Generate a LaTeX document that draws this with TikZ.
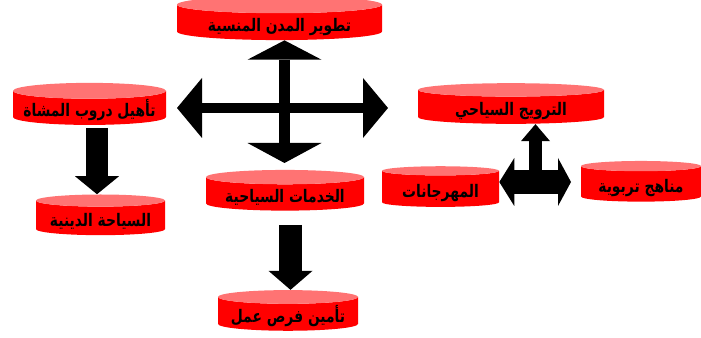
\documentclass[tikz,border=0pt]{standalone}
\usepackage{fontspec}
\newfontfamily\arabicfont[Script=Arabic,FakeStretch=0.8]{DejaVu Sans}
\TeXXeTstate=1
\usetikzlibrary{shapes.geometric}
\usetikzlibrary{arrows.meta}

\tikzset{
  disk/.style={cylinder, shape border rotate=90, aspect=0.12, draw=none, inner sep=0pt,
    cylinder uses custom fill, cylinder body fill=red, cylinder end fill=red!55,
    minimum width=#1, minimum height=30.5pt, text height=13.5pt, text depth=0pt,
    font=\arabicfont\bfseries\fontsize{13pt}{15pt}\selectfont}
}

\begin{document}
\begin{tikzpicture}[x=0.75pt,y=-0.75pt]
\useasboundingbox (0,0) rectangle (701,338);

\node[disk=153.75pt] (mudun) at (279.5,22.5) {\beginR تطوير المدن المنسية\endR};
\node[disk=114.75pt] (durub) at (89.5,108) {\beginR تأهيل دروب المشاة\endR};
\node[disk=139.5pt] (tarwij) at (511,107) {\beginR الترويج السياحي\endR};
\node[disk=87.75pt] (mahrajan) at (440.5,189) {\beginR المهرجانات\endR};
\node[disk=90pt] (manahij) at (641,184) {\beginR مناهج تربوية\endR};
\node[disk=118.5pt] (khadamat) at (285,194) {\beginR الخدمات السياحية\endR};
\node[disk=96.75pt] (dini) at (100.5,218) {\beginR السياحة الدينية\endR};
\node[disk=105pt] (amal) at (288,314) {\beginR تأمين فرص عمل\endR};

% four-way arrow
\coordinate (crossW) at (177,108);
\coordinate (crossE) at (388,108);
\coordinate (crossS) at (284.5,163);
\draw[line width=7.5pt,{Triangle[width=45pt,length=18.75pt,line width=0pt]}-{Triangle[width=45pt,length=18.75pt,line width=0pt]}] (crossW) -- (crossE);
\draw[line width=8.25pt,{Triangle[width=55.5pt,length=14.5pt,line width=0pt]}-{Triangle[width=55.5pt,length=15pt,line width=0pt]}] (crossS |- mudun.south) -- (crossS);

% down arrows
\coordinate (durubFoot) at (97,128);
\draw[line width=16.5pt,-{Triangle[width=33pt,length=13.5pt,line width=0pt]}] (durubFoot) -- (durubFoot |- dini.north);
\coordinate (amalTop) at (290.5,225);
\draw[line width=17.25pt,-{Triangle[width=33pt,length=14.25pt,line width=0pt]}] (amalTop) -- (amalTop |- amal.north);

% three-way arrow
\coordinate (joint) at (535.5,182);
\coordinate (festE) at (571,182);
\draw[line width=9.75pt,-{Triangle[width=21.75pt,length=12.75pt,line width=0pt]}] (joint) -- (joint |- tarwij.south);
\draw[line width=18pt,{Triangle[width=36pt,length=11.25pt,line width=0pt]}-{Triangle[width=36pt,length=9.75pt,line width=0pt]}] (mahrajan.east |- joint) -- (festE);
\end{tikzpicture}
\end{document}
